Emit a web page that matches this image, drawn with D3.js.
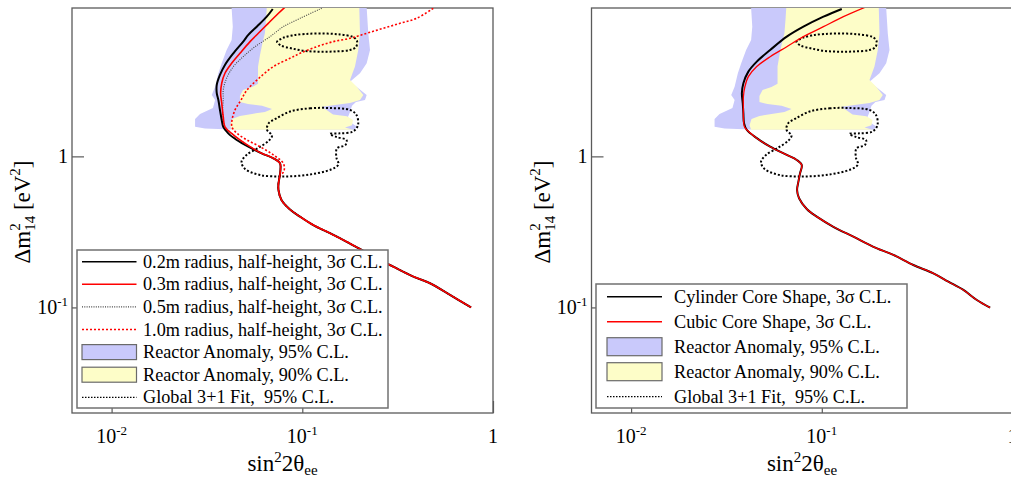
<!DOCTYPE html>
<html><head><meta charset="utf-8">
<script src="https://cdn.jsdelivr.net/npm/d3@7"></script>
<style>
body{margin:0;background:#fff}
svg{display:block}
text{font-family:"Liberation Serif","Times New Roman",serif;fill:#000}
</style>
</head><body>
<svg id="chart" width="1011" height="479"></svg>
<script>
// ---------- data (x = sin^2 2theta_ee, y = dm^2_14 [eV^2]) ----------
const xDomain = [0.0062, 1];
const yDomain = [0.02, 9.6];
const xTickLabels = [{v:0.01, base:"10", exp:"-2"}, {v:0.1, base:"10", exp:"-1"}, {v:1, base:"1", exp:""}];
const yTickLabels = [{v:0.1, base:"10", exp:"-1"}, {v:1, base:"1", exp:""}];

// Reactor anomaly 95% C.L. (blue)
const reactor95 = [[0.0426,9.6],[0.0432,7.22],[0.0426,5.90],[0.0401,5.06],[0.0378,4.13],[0.0363,3.55],[0.0349,2.89],[0.0335,2.55],[0.0349,2.36],[0.0340,2.09],[0.0291,1.91],[0.0274,1.77],[0.0274,1.57],[0.0309,1.53],[0.0423,1.507],[0.1844,1.50],[0.1912,1.54],[0.1912,1.59],[0.1779,1.69],[0.1736,1.82],[0.1779,1.97],[0.1822,2.16],[0.1912,2.29],[0.2132,2.36],[0.2176,2.55],[0.1966,2.82],[0.1779,3.12],[0.2007,3.55],[0.2176,4.13],[0.2265,5.06],[0.2218,6.53],[0.2176,9.6]];
// Reactor anomaly 90% C.L. (yellow)
const reactor90 = [[0.0651,9.6],[0.1990,9.6],[0.2007,6.53],[0.1966,5.06],[0.1889,3.93],[0.1779,3.20],[0.1929,2.89],[0.2089,2.55],[0.2007,2.36],[0.1779,2.26],[0.1484,2.19],[0.1269,2.13],[0.1449,1.89],[0.1715,1.84],[0.1844,1.74],[0.1822,1.61],[0.1675,1.55],[0.1844,1.50],[0.0426,1.50],[0.0418,1.61],[0.0428,1.77],[0.0471,1.85],[0.0545,1.91],[0.0637,1.97],[0.0694,2.06],[0.0615,2.16],[0.0519,2.22],[0.0471,2.29],[0.0471,2.51],[0.0489,2.75],[0.0545,2.88],[0.0586,3.02],[0.0586,3.41],[0.0586,3.93],[0.0600,4.69],[0.0615,5.46],[0.0637,6.56],[0.0645,8.00]];
// Global 3+1 fit 95% C.L. (two islands)
const globalUpper = [[0.0737,5.72],[0.0792,6.08],[0.0883,6.31],[0.1033,6.46],[0.1284,6.51],[0.1576,6.41],[0.1844,6.17],[0.1936,5.81],[0.1912,5.30],[0.1779,5.06],[0.1484,4.95],[0.1239,4.93],[0.1033,4.99],[0.0883,5.18],[0.0773,5.42]];
const globalLower = [[0.0862,1.98],[0.1098,2.08],[0.1397,2.09],[0.1779,2.03],[0.1924,1.88],[0.1959,1.61],[0.1844,1.46],[0.1576,1.42],[0.1397,1.41],[0.1520,1.34],[0.1705,1.284],[0.1685,1.19],[0.1520,1.128],[0.1511,0.976],[0.1548,0.884],[0.1414,0.819],[0.1098,0.759],[0.0811,0.736],[0.0600,0.753],[0.0501,0.825],[0.0480,0.918],[0.0510,1.022],[0.0593,1.145],[0.0669,1.274],[0.0694,1.375],[0.0653,1.50],[0.0665,1.65],[0.0728,1.78]];

// Left panel: sensitivity curves (upper parts) and their common tail
const leftTail = [[0.0612,1.048],[0.0705,0.971],[0.0764,0.900],[0.0768,0.813],[0.0760,0.731],[0.0750,0.657],[0.0750,0.599],[0.0778,0.514],[0.0862,0.445],[0.0973,0.399],[0.1142,0.351],[0.1397,0.310],[0.1709,0.272],[0.2048,0.240],[0.2455,0.2115],[0.300,0.186],[0.382,0.160],[0.467,0.1445],[0.595,0.121],[0.767,0.100]];
const r02Upper = [[0.0700,9.46],[0.0651,8.41],[0.0577,7.22],[0.0521,6.37],[0.0490,5.75],[0.0435,4.81],[0.0393,4.03],[0.0370,3.46],[0.0356,2.97],[0.0356,2.62],[0.0363,2.36],[0.0370,2.03],[0.0378,1.74],[0.0385,1.57],[0.0409,1.42],[0.0453,1.284],[0.0521,1.159]];
const r03Upper = [[0.0811,9.71],[0.0734,8.63],[0.0663,7.60],[0.0588,6.53],[0.0532,5.75],[0.0471,4.81],[0.0426,4.13],[0.0393,3.55],[0.0378,3.05],[0.0373,2.62],[0.0378,2.25],[0.0385,1.83],[0.0393,1.57],[0.0426,1.42],[0.0471,1.284],[0.0532,1.159]];
const r05Upper = [[0.1264,9.56],[0.0973,8.20],[0.0795,7.22],[0.0677,6.20],[0.0565,5.32],[0.0490,4.57],[0.0435,3.93],[0.0401,3.29],[0.0385,2.75],[0.0385,2.36],[0.0382,2.03],[0.0385,1.74],[0.0393,1.57],[0.0426,1.42],[0.0471,1.284],[0.0532,1.159]];
const r10Upper = [[0.486,9.56],[0.398,8.20],[0.3253,7.60],[0.266,7.05],[0.2176,6.53],[0.1779,6.05],[0.1454,5.75],[0.119,5.32],[0.0973,4.81],[0.0862,4.46],[0.0705,3.93],[0.0586,3.25],[0.0513,2.75],[0.0477,2.36],[0.0444,2.03],[0.0428,1.74],[0.0428,1.56],[0.0455,1.42],[0.0513,1.284],[0.0600,1.159],[0.0705,1.022],[0.0795,0.900],[0.0802,0.800],[0.0760,0.731]];

// Right panel: core-shape curves
const rightTail = [[0.0404,1.50],[0.0456,1.32],[0.0536,1.159],[0.0655,1.022],[0.0739,0.947],[0.0785,0.877],[0.0769,0.773],[0.0754,0.680],[0.0742,0.599],[0.0760,0.528],[0.0834,0.448],[0.0941,0.399],[0.1150,0.342],[0.1464,0.294],[0.1865,0.252],[0.2374,0.2225],[0.302,0.191],[0.3847,0.168],[0.4611,0.148],[0.5527,0.1305],[0.650,0.112],[0.763,0.0996]];
const cylUpper = [[0.1273,9.46],[0.1020,8.41],[0.0801,7.22],[0.0655,6.20],[0.0536,5.06],[0.0456,4.24],[0.0412,3.64],[0.0388,3.05],[0.0381,2.62],[0.0385,2.25],[0.0388,1.93],[0.0391,1.66]];
const cubUpper = [[0.1687,9.71],[0.1298,8.41],[0.1020,7.22],[0.0801,6.20],[0.0655,5.32],[0.0536,4.57],[0.0456,3.93],[0.0412,3.37],[0.0395,2.89],[0.0388,2.48],[0.0388,2.13],[0.0388,1.83],[0.0393,1.57]];

const leftLegend = ["0.2m radius, half-height, 3\u03c3 C.L.","0.3m radius, half-height, 3\u03c3 C.L.","0.5m radius, half-height, 3\u03c3 C.L.","1.0m radius, half-height, 3\u03c3 C.L.","Reactor Anomaly, 95% C.L.","Reactor Anomaly, 90% C.L.","Global 3+1 Fit,  95% C.L."];
const rightLegend = ["Cylinder Core Shape, 3\u03c3 C.L.","Cubic Core Shape, 3\u03c3 C.L.","Reactor Anomaly, 95% C.L.","Reactor Anomaly, 90% C.L.","Global 3+1 Fit,  95% C.L."];

// ---------- styles ----------
const S = {
  blue:{fill:"#c9c9fb"}, yellow:{fill:"#fdfdc8"},
  black:{stroke:"#000", width:2, dash:null},
  red:{stroke:"#f00", width:1.6, dash:null},
  gray:{stroke:"#444", width:1.1, dash:"1,1.3"},
  reddot:{stroke:"#f00", width:1.6, dash:"2,2"},
  global:{stroke:"#000", width:2, dash:"2,2"}
};

const svg = d3.select("#chart");
const plotTop = 8, plotBottom = 413;
const frameColor = "#5a5a5a";

function drawPanel(x0, x1, lines, legend) {
  const x = d3.scaleLog().domain(xDomain).range([x0, x1]);
  const y = d3.scaleLog().domain(yDomain).range([plotBottom, plotTop]);
  const g = svg.append("g");

  g.append("rect").attr("x", x0).attr("y", plotTop).attr("width", x1 - x0).attr("height", plotBottom - plotTop)
    .attr("fill", "none").attr("stroke", frameColor).attr("stroke-width", 1.3);

  const yMinor = y.ticks().filter(v => !yTickLabels.some(t => Math.abs(t.v - v) < 1e-9));
  const xMinor = x.ticks().filter(v => !xTickLabels.some(t => Math.abs(t.v - v) < 1e-9) && v > xDomain[0]);
  const ya = g.append("g").attr("transform", `translate(${x0},0)`);
  ya.call(d3.axisRight(y).tickValues(yMinor).tickSize(7).tickFormat(""));
  ya.call(d3.axisRight(y).tickValues(yTickLabels.map(d => d.v)).tickSize(12).tickFormat(""));
  const xa = g.append("g").attr("transform", `translate(0,${plotBottom})`);
  xa.call(d3.axisTop(x).tickValues(xMinor).tickSize(7).tickFormat(""));
  xa.call(d3.axisTop(x).tickValues(xTickLabels.map(d => d.v)).tickSize(12).tickFormat(""));
  g.selectAll(".domain").remove();
  g.selectAll(".tick line").attr("stroke", frameColor).attr("stroke-width", 1.2);

  yTickLabels.forEach(t => {
    const tx = g.append("text").attr("x", x0 - 4).attr("y", y(t.v) + 7).attr("text-anchor", "end").attr("font-size", 20);
    tx.append("tspan").text(t.base);
    if (t.exp) tx.append("tspan").attr("font-size", 13).attr("dy", -8).text(t.exp);
  });
  xTickLabels.forEach(t => {
    const tx = g.append("text").attr("x", x(t.v)).attr("y", 443).attr("text-anchor", "middle").attr("font-size", 20);
    tx.append("tspan").text(t.base);
    if (t.exp) tx.append("tspan").attr("font-size", 13).attr("dy", -8).text(t.exp);
  });

  const xt = g.append("text").attr("x", (x0 + x1) / 2).attr("y", 471).attr("text-anchor", "middle").attr("font-size", 23);
  xt.append("tspan").text("sin");
  xt.append("tspan").attr("font-size", 15).attr("dy", -9).text("2");
  xt.append("tspan").attr("dy", 9).text("2\u03b8");
  xt.append("tspan").attr("font-size", 15).attr("dy", 4).text("ee");

  const yt = g.append("text").attr("transform", `translate(${x0 - 42},212) rotate(-90)`).attr("text-anchor", "middle").attr("font-size", 23);
  yt.append("tspan").text("\u0394m");
  yt.append("tspan").attr("font-size", 15).attr("dy", -10).text("2");
  yt.append("tspan").attr("font-size", 15).attr("dy", 15).attr("dx", -7.5).text("14");
  yt.append("tspan").attr("dy", -5).text(" [eV");
  yt.append("tspan").attr("font-size", 15).attr("dy", -10).text("2");
  yt.append("tspan").attr("dy", 10).text("]");

  const area = d3.line().x(d => x(d[0])).y(d => y(d[1])).curve(d3.curveLinearClosed);
  g.append("path").attr("d", area(reactor95)).attr("fill", S.blue.fill);
  g.append("path").attr("d", area(reactor90)).attr("fill", S.yellow.fill);
  const closed = d3.line().x(d => x(d[0])).y(d => y(d[1])).curve(d3.curveCatmullRomClosed.alpha(0.5));
  [globalUpper, globalLower].forEach(c => {
    g.append("path").attr("d", closed(c)).attr("fill", "none").attr("stroke", S.global.stroke)
      .attr("stroke-width", S.global.width).attr("stroke-dasharray", S.global.dash);
  });

  const line = d3.line().x(d => x(d[0])).y(d => y(d[1])).curve(d3.curveCatmullRom.alpha(0.5));
  const clip = "clipP" + Math.round(x0);
  svg.append("clipPath").attr("id", clip).append("rect").attr("x", x0).attr("y", plotTop).attr("width", x1 - x0).attr("height", plotBottom - plotTop);
  lines.forEach(l => {
    g.append("path").attr("d", line(l.data)).attr("fill", "none").attr("stroke", l.style.stroke)
      .attr("stroke-width", l.style.width).attr("stroke-dasharray", l.style.dash).attr("clip-path", `url(#${clip})`);
  });

  const L = legend;
  g.append("rect").attr("x", L.x).attr("y", L.y).attr("width", L.w).attr("height", L.h)
    .attr("fill", "#fff").attr("stroke", "#707070").attr("stroke-width", 1.5);
  L.items.forEach((it, i) => {
    const cy = L.y + L.first + i * L.step;
    if (it.style.fill) {
      g.append("rect").attr("x", L.sx0).attr("y", cy - L.boxH / 2).attr("width", L.sx1 - L.sx0).attr("height", L.boxH)
        .attr("fill", it.style.fill).attr("stroke", "#6a6a6a").attr("stroke-width", 1.2);
    } else {
      g.append("line").attr("x1", L.sx0).attr("x2", L.sx1).attr("y1", cy).attr("y2", cy)
        .attr("stroke", it.style.stroke).attr("stroke-width", it.style === S.global ? 1.3 : Math.min(it.style.width, 1.6))
        .attr("stroke-dasharray", it.style === S.global ? "1.5,1.5" : it.style.dash);
    }
    g.append("text").attr("x", L.tx).attr("y", cy + L.fs * 0.33).attr("font-size", L.fs)
      .style("white-space", "pre").text(it.label);
  });
}

drawPanel(72, 493, [
  {data: r10Upper.concat(leftTail.slice(6)), style: S.reddot},
  {data: r05Upper.concat(leftTail), style: S.gray},
  {data: r02Upper.concat(leftTail), style: S.black},
  {data: r03Upper.concat(leftTail), style: S.red}
], {
  x: 77, y: 250, w: 311, h: 158, first: 11.7, step: 22.6, boxH: 15, sx0: 82, sx1: 136.5, tx: 143, fs: 18.2,
  items: [
    {label: leftLegend[0], style: S.black}, {label: leftLegend[1], style: S.red},
    {label: leftLegend[2], style: S.gray}, {label: leftLegend[3], style: S.reddot},
    {label: leftLegend[4], style: S.blue}, {label: leftLegend[5], style: S.yellow},
    {label: leftLegend[6], style: S.global}
  ]
});

drawPanel(591.5, 1012.5, [
  {data: cylUpper.concat(rightTail), style: S.black},
  {data: cubUpper.concat(rightTail), style: {stroke:"#f00", width:1.3, dash:null}}
], {
  x: 596, y: 284, w: 311, h: 124, first: 12.7, step: 25, boxH: 18, sx0: 607, sx1: 662, tx: 674, fs: 18.2,
  items: [
    {label: rightLegend[0], style: S.black}, {label: rightLegend[1], style: S.red},
    {label: rightLegend[2], style: S.blue}, {label: rightLegend[3], style: S.yellow},
    {label: rightLegend[4], style: S.global}
  ]
});
</script>
</body></html>
